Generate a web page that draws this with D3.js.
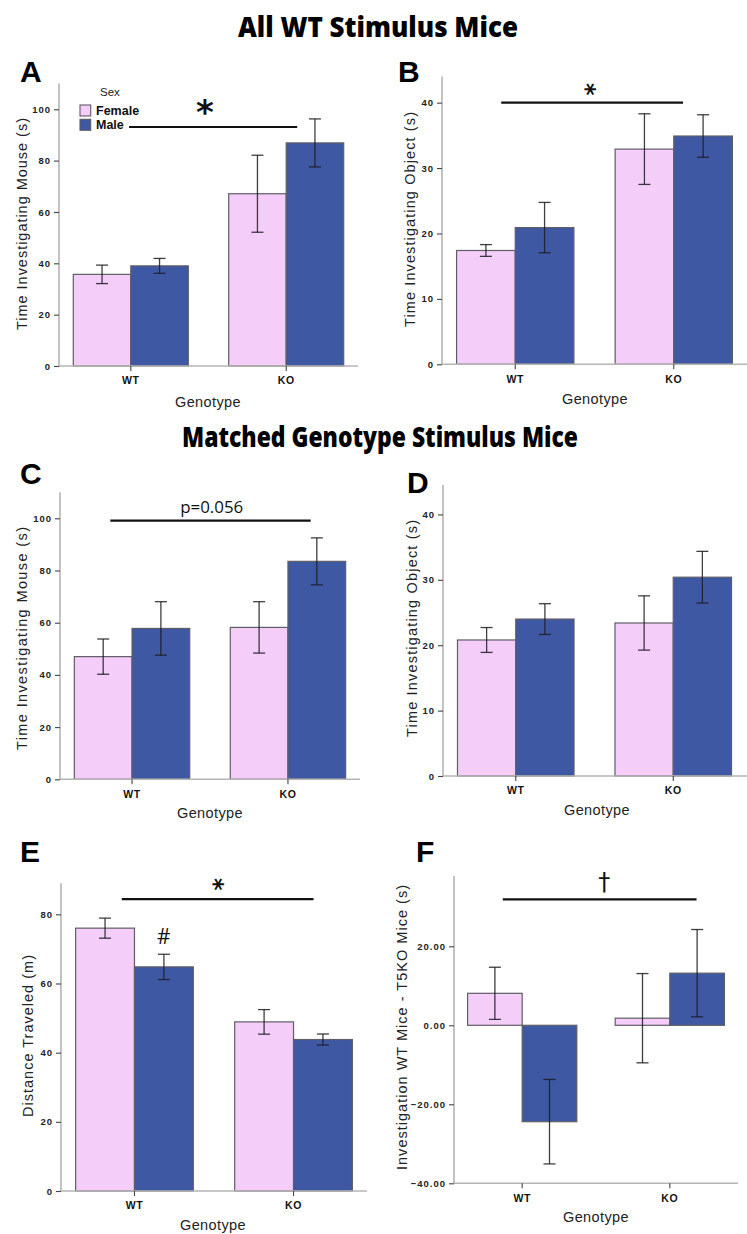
<!DOCTYPE html>
<html>
<head>
<meta charset="utf-8">
<script src="https://cdn.jsdelivr.net/npm/d3@7"></script>
<style>
  body { margin: 0; background: #fff; }
  svg { display: block; }
</style>
</head>
<body>
<svg id="fig" width="747" height="1234"></svg>
<script>
// ---- data -------------------------------------------------------------
const categories = ["WT", "KO"];
const sexes = ["Female", "Male"];

// A: time investigating mouse (all WT stimulus mice)
const aFemale = [35.7, 67.1], aFemaleErr = [3.6, 15.0];
const aMale = [39.0, 86.9], aMaleErr = [2.9, 9.35];
const aTicks = [0, 20, 40, 60, 80, 100];

// B: time investigating object (all WT stimulus mice)
const bFemale = [17.4, 32.9], bFemaleErr = [0.9, 5.4];
const bMale = [20.9, 34.9], bMaleErr = [3.85, 3.25];
const bTicks = [0, 10, 20, 30, 40];

// C: time investigating mouse (matched genotype stimulus mice)
const cFemale = [47.0, 58.2], cFemaleErr = [6.75, 9.85];
const cMale = [57.8, 83.5], cMaleErr = [10.25, 9.0];
const cTicks = [0, 20, 40, 60, 80, 100];

// D: time investigating object (matched genotype stimulus mice)
const dFemale = [20.8, 23.4], dFemaleErr = [1.9, 4.15];
const dMale = [24.0, 30.4], dMaleErr = [2.35, 3.95];
const dTicks = [0, 10, 20, 30, 40];

// E: distance traveled
const eFemale = [76.0, 48.9], eFemaleErr = [2.9, 3.55];
const eMale = [64.8, 43.8], eMaleErr = [3.65, 1.6];
const eTicks = [0, 20, 40, 60, 80];

// F: investigation of WT mice minus T5KO mice
const fFemale = [8.1, 1.8], fFemaleErr = [6.6, 11.3];
const fMale = [-24.4, 13.2], fMaleErr = [10.7, 11.05];
const fTicks = [-40, -20, 0, 20];

// ---- styling ----------------------------------------------------------
const colors = { Female: "#f5cdf9", Male: "#3f58a3" };
const sansFont = "'Liberation Sans', Arial, sans-serif";
const titleFont = "'Open Sans', 'Noto Sans', sans-serif";

const svg = d3.select("#fig");

// headline titles
function title(text, cx, baseline, len) {
  svg.append("text")
    .attr("x", cx).attr("y", baseline)
    .attr("text-anchor", "middle")
    .attr("font-family", titleFont)
    .attr("font-weight", 800)
    .attr("font-size", 28)
    .attr("textLength", len)
    .attr("lengthAdjust", "spacingAndGlyphs")
    .text(text);
}
title("All WT Stimulus Mice", 378, 37, 280);
title("Matched Genotype Stimulus Mice", 380, 447, 396);

// ---- one panel --------------------------------------------------------
function panel(cfg) {
  const g = svg.append("g");

  const x = d3.scaleBand().domain(categories)
    .range([cfg.left, cfg.right]).paddingInner(0.26).paddingOuter(0.092);
  const xs = d3.scaleBand().domain(sexes).range([0, x.bandwidth()]);
  const y = d3.scaleLinear().domain(cfg.domain).range([cfg.bottom, cfg.top]);

  const rows = [];
  categories.forEach((c, i) => {
    rows.push({ cat: c, sex: "Female", v: cfg.female[i], e: cfg.femaleErr[i] });
    rows.push({ cat: c, sex: "Male", v: cfg.male[i], e: cfg.maleErr[i] });
  });

  // bars
  g.selectAll("rect.bar").data(rows).join("rect")
    .attr("class", "bar")
    .attr("x", d => x(d.cat) + xs(d.sex))
    .attr("width", xs.bandwidth())
    .attr("y", d => y(Math.max(0, d.v)))
    .attr("height", d => Math.abs(y(d.v) - y(0)))
    .attr("fill", d => colors[d.sex])
    .attr("stroke", "#5e5e66")
    .attr("stroke-width", 1.2);

  // y axis
  const yAxis = d3.axisLeft(y).tickValues(cfg.ticks)
    .tickSize(5).tickPadding(3)
    .tickFormat(cfg.tickFormat || d3.format("d"));
  const ya = g.append("g").attr("transform", `translate(${cfg.left},0)`).call(yAxis);
  ya.select(".domain").attr("stroke", "#b5b5b5").attr("stroke-width", 1.6)
    .attr("d", `M0,${cfg.bottom}V${cfg.top}`);
  ya.selectAll(".tick line").attr("stroke", "#444").attr("stroke-width", 1.1);
  ya.selectAll(".tick text")
    .attr("font-family", sansFont).attr("font-weight", 700)
    .attr("font-size", 9.5).attr("letter-spacing", 1).attr("fill", "#222");

  // x axis along the lower bound
  const xAxis = d3.axisBottom(x).tickSize(5).tickPadding(6);
  const xa = g.append("g").attr("transform", `translate(0,${y(cfg.domain[0])})`).call(xAxis);
  xa.select(".domain").attr("stroke", "#b5b5b5").attr("stroke-width", 1.6)
    .attr("d", `M${cfg.left},0H${cfg.axisEnd}`);
  xa.selectAll(".tick line").attr("stroke", "#444").attr("stroke-width", 1.1);
  xa.selectAll(".tick text")
    .attr("font-family", sansFont).attr("font-weight", 700)
    .attr("font-size", 10.5).attr("letter-spacing", 0.6).attr("fill", "#111");

  // error bars
  const cap = 6;
  const eb = g.selectAll("g.err").data(rows).join("g").attr("class", "err")
    .attr("stroke", "#1c1c24").attr("stroke-opacity", 0.85).attr("stroke-width", 1.3);
  eb.append("line")
    .attr("x1", d => x(d.cat) + xs(d.sex) + xs.bandwidth() / 2)
    .attr("x2", d => x(d.cat) + xs(d.sex) + xs.bandwidth() / 2)
    .attr("y1", d => y(d.v - d.e)).attr("y2", d => y(d.v + d.e));
  eb.selectAll("line.cap").data(d => [d.v - d.e, d.v + d.e].map(val => ({ d, val })))
    .join("line").attr("class", "cap")
    .attr("x1", o => x(o.d.cat) + xs(o.d.sex) + xs.bandwidth() / 2 - cap)
    .attr("x2", o => x(o.d.cat) + xs(o.d.sex) + xs.bandwidth() / 2 + cap)
    .attr("y1", o => y(o.val)).attr("y2", o => y(o.val));

  // axis titles
  const yMid = (cfg.labelSpan[0] + cfg.labelSpan[1]) / 2;
  g.append("text")
    .attr("transform", `translate(${cfg.labelX},${yMid}) rotate(-90)`)
    .attr("text-anchor", "middle").attr("dominant-baseline", "central")
    .attr("font-family", sansFont).attr("font-size", 14.5).attr("fill", "#222")
    .attr("textLength", cfg.labelSpan[1] - cfg.labelSpan[0])
    .attr("lengthAdjust", "spacing")
    .text(cfg.yLabel);
  g.append("text")
    .attr("x", cfg.genoX).attr("y", cfg.genoY)
    .attr("text-anchor", "middle")
    .attr("font-family", sansFont).attr("font-size", 14.5).attr("fill", "#222")
    .attr("letter-spacing", 0.4)
    .text("Genotype");

  // panel letter
  g.append("text")
    .attr("x", cfg.letterPos[0]).attr("y", cfg.letterPos[1])
    .attr("font-family", sansFont).attr("font-weight", 700).attr("font-size", 30)
    .text(cfg.letter);

  // significance bracket
  if (cfg.sig) {
    const s = cfg.sig;
    const x1 = x(categories[0]) + x.bandwidth() / 2 + s.from;
    const x2 = x(categories[1]) + x.bandwidth() / 2 + s.to;
    g.append("line")
      .attr("x1", x1).attr("x2", x2)
      .attr("y1", y(s.level)).attr("y2", y(s.level))
      .attr("stroke", "#111").attr("stroke-width", 2.2);
    const my = y(s.markLevel);
    const t = g.append("text")
      .attr("x", s.markX).attr("y", my)
      .attr("dy", s.dy || 0)
      .attr("text-anchor", "middle").attr("dominant-baseline", "central")
      .attr("font-family", s.font).attr("font-weight", s.weight || 400)
      .attr("font-size", s.size).attr("fill", "#111")
      .text(s.mark);
    if (s.rotate) t.attr("transform", `rotate(${s.rotate},${s.markX},${my})`);
    if (s.len) t.attr("textLength", s.len).attr("lengthAdjust", "spacingAndGlyphs");
  }
  if (cfg.note) {
    const n = cfg.note;
    g.append("text")
      .attr("x", x(n.cat) + xs(n.sex) + xs.bandwidth() / 2)
      .attr("y", y(n.level))
      .attr("text-anchor", "middle").attr("dominant-baseline", "central")
      .attr("font-family", titleFont).attr("font-size", 21).attr("fill", "#111")
      .text(n.mark);
  }
  return { g, x, xs, y };
}

// ---- panels -----------------------------------------------------------
panel({
  letter: "A", letterPos: [20, 82],
  left: 59, right: 358, axisEnd: 358, bottom: 366, top: 83.6, domain: [0, 110],
  female: aFemale, femaleErr: aFemaleErr, male: aMale, maleErr: aMaleErr, ticks: aTicks,
  yLabel: "Time Investigating Mouse (s)", labelX: 22, labelSpan: [118, 330],
  genoX: 208, genoY: 407,
  sig: { level: 93.1, from: -1.7, to: 11, mark: "*", markX: 205, markLevel: 101.6,
         font: "'DejaVu Sans', sans-serif", weight: 700, size: 34, dy: "0.2em" }
});

panel({
  letter: "B", letterPos: [398, 82],
  left: 442, right: 747, axisEnd: 747, bottom: 364.3, top: 76.5, domain: [0, 44],
  female: bFemale, femaleErr: bFemaleErr, male: bMale, maleErr: bMaleErr, ticks: bTicks,
  yLabel: "Time Investigating Object (s)", labelX: 410, labelSpan: [112, 327],
  genoX: 595, genoY: 404,
  sig: { level: 40, from: -14, to: 9.3, mark: "*", markX: 590.7, markLevel: 42.05,
         font: "'DejaVu Sans', sans-serif", weight: 700, size: 24, rotate: 90, dy: "0.2em" }
});

panel({
  letter: "C", letterPos: [20, 484],
  left: 60, right: 360, axisEnd: 360, bottom: 779.3, top: 492.2, domain: [0, 110],
  female: cFemale, femaleErr: cFemaleErr, male: cMale, maleErr: cMaleErr, ticks: cTicks,
  yLabel: "Time Investigating Mouse (s)", labelX: 22, labelSpan: [527, 750],
  genoX: 210, genoY: 818,
  sig: { level: 99.1, from: -21.7, to: 22.7, mark: "p=0.056", markX: 211.7, markLevel: 104.3,
         font: titleFont, size: 16, len: 63 }
});

panel({
  letter: "D", letterPos: [407, 493],
  left: 443, right: 746, axisEnd: 747, bottom: 776, top: 485, domain: [0, 44.5],
  female: dFemale, femaleErr: dFemaleErr, male: dMale, maleErr: dMaleErr, ticks: dTicks,
  yLabel: "Time Investigating Object (s)", labelX: 412, labelSpan: [520, 737],
  genoX: 597, genoY: 815
});

panel({
  letter: "E", letterPos: [20, 862],
  left: 61, right: 367, axisEnd: 367, bottom: 1191, top: 883.2, domain: [0, 89],
  female: eFemale, femaleErr: eFemaleErr, male: eMale, maleErr: eMaleErr, ticks: eTicks,
  yLabel: "Distance Traveled (m)", labelX: 28, labelSpan: [955, 1117],
  genoX: 213, genoY: 1230,
  sig: { level: 84.4, from: -12.7, to: 20, mark: "*", markX: 218.3, markLevel: 88.7,
         font: "'DejaVu Sans', sans-serif", weight: 700, size: 24, rotate: 90, dy: "0.2em" },
  note: { cat: "WT", sex: "Male", level: 73.7, mark: "#" }
});

panel({
  letter: "F", letterPos: [416, 862],
  left: 454, right: 738, axisEnd: 738, bottom: 1183.3, top: 876, domain: [-40, 37.8],
  female: fFemale, femaleErr: fFemaleErr, male: fMale, maleErr: fMaleErr, ticks: fTicks,
  tickFormat: d3.format(".2f"),
  yLabel: "Investigation WT Mice - T5KO Mice (s)", labelX: 402, labelSpan: [885, 1170],
  genoX: 596, genoY: 1222,
  sig: { level: 31.9, from: -19.4, to: 26.7, mark: "†", markX: 604.3, markLevel: 36.3,
         font: "'DejaVu Sans', sans-serif", size: 24 }
});

// ---- legend (panel A) ---------------------------------------------------
const legend = svg.append("g");
legend.append("text")
  .attr("x", 100).attr("y", 96)
  .attr("font-family", sansFont).attr("font-size", 11.5).attr("fill", "#222")
  .text("Sex");
const legRows = legend.selectAll("g.item").data(sexes).join("g").attr("class", "item")
  .attr("transform", (d, i) => `translate(80,${105 + i * 14.3})`);
legRows.append("rect")
  .attr("width", 10.7).attr("height", 11)
  .attr("fill", d => colors[d]).attr("stroke", "#5e5e66").attr("stroke-width", 1.1);
legRows.append("text")
  .attr("x", 16).attr("y", 10)
  .attr("font-family", sansFont).attr("font-weight", 700).attr("font-size", 12.5)
  .attr("fill", "#111")
  .text(d => d);
</script>
</body>
</html>
